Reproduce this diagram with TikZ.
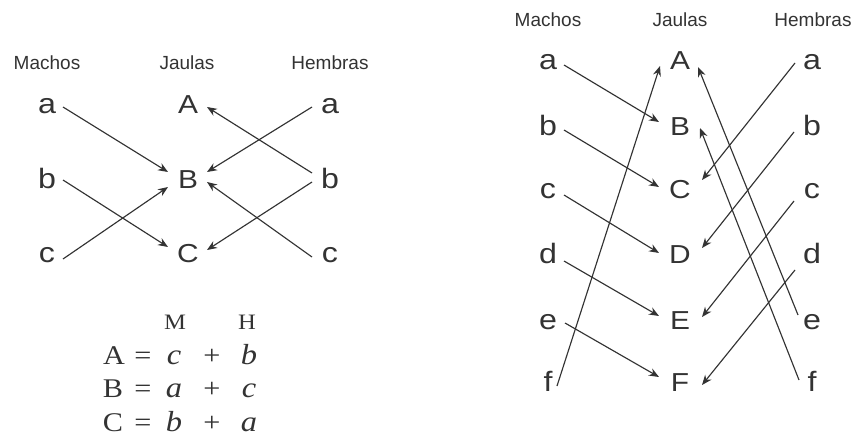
\documentclass[tikz,border=0pt]{standalone}
\usepackage{fontspec}
\usetikzlibrary{arrows.meta,calc}
\newfontfamily\lsans{Liberation Sans}
\newfontfamily\wsans[FakeStretch=1.15]{Liberation Sans}
\newfontfamily\lserif[FakeStretch=1.12]{Liberation Serif}
\definecolor{ink}{HTML}{333333}
\tikzset{
  lbl/.style={inner sep=0pt, anchor=base, text=ink},
  hdr/.style={lbl, font=\lsans\fontsize{19}{22}\selectfont},
  low/.style={lbl, font=\wsans\fontsize{28}{30}\selectfont},
  upp/.style={lbl, font=\wsans\fontsize{26}{28}\selectfont},
  eqs/.style={lbl, font=\lserif\fontsize{27}{30}\selectfont},
  eqh/.style={lbl, font=\lserif\fontsize{22}{24}\selectfont},
  eqv/.style={lbl, font=\lserif\itshape\fontsize{29}{31}\selectfont},
  arr/.style={draw=ink, line width=1.15pt, -{Stealth[length=10pt,width=8pt]}}
}
\begin{document}
\begin{tikzpicture}[x=1pt,y=-1pt]
\useasboundingbox (0,0) rectangle (855,439);
% ---------- left diagram ----------
\node[hdr] (h1) at (47,69) {Machos};
\node[hdr] (h2) at (187,69) {Jaulas};
\node[hdr] (h3) at (330,69) {Hembras};
\node[low] (La) at (47,113) {a};
\node[low] (Lb) at (47,188) {b};
\node[low] (Lc) at (47,262) {c};
\node[upp] (CA) at (188,113) {A};
\node[upp] (CB) at (188,188) {B};
\node[upp] (CC) at (188,262) {C};
\node[low] (Ra) at (330,113) {a};
\node[low] (Rb) at (330,188) {b};
\node[low] (Rc) at (330,262) {c};
\draw[arr] ($(La.base)+(16,-6)$) -- ($(CB.base)+(-20,-16)$);
\draw[arr] ($(Lb.base)+(16,-8)$) -- ($(CC.base)+(-20,-15)$);
\draw[arr] ($(Lc.base)+(16,-3)$) -- ($(CB.base)+(-20,-1)$);
\draw[arr] ($(Ra.base)+(-18,-6)$) -- ($(CB.base)+(19,-16)$);
\draw[arr] ($(Rb.base)+(-18,-15)$) -- ($(CA.base)+(19,-6)$);
\draw[arr] ($(Rb.base)+(-18,-6)$) -- ($(CC.base)+(19,-12)$);
\draw[arr] ($(Rc.base)+(-18,-5)$) -- ($(CB.base)+(19,-6)$);
% ---------- equations ----------
\node[eqh] (eM) at (175,329) {M};
\node[eqh] (eH) at (247,329) {H};
\node[eqs] (e1A) at (114,364) {A};
\node[eqs] (e1q) at (143,364) {=};
\node[eqv] (e1m) at (174,364) {c};
\node[eqs] (e1p) at (212,364) {+};
\node[eqv] (e1h) at (249,364) {b};
\node[eqs] (e2A) at (113,397) {B};
\node[eqs] (e2q) at (143,397) {=};
\node[eqv] (e2m) at (174,397) {a};
\node[eqs] (e2p) at (212,397) {+};
\node[eqv] (e2h) at (249,397) {c};
\node[eqs] (e3A) at (113,431) {C};
\node[eqs] (e3q) at (143,431) {=};
\node[eqv] (e3m) at (174,431) {b};
\node[eqs] (e3p) at (212,431) {+};
\node[eqv] (e3h) at (249,431) {a};
% ---------- right diagram ----------
\node[hdr] (g1) at (548,26) {Machos};
\node[hdr] (g2) at (680,26) {Jaulas};
\node[hdr] (g3) at (813,26) {Hembras};
\foreach \n/\t/\y in {a/A/69, b/B/135, c/C/198, d/D/263, e/E/329, f/F/391}{
  \node[low] (M\n) at (548,\y) {\n};
  \node[upp] (J\t) at (680,\y) {\t};
  \node[low] (H\n) at (812,\y) {\n};
}
% males
\draw[arr] ($(Ma.base)+(16,-4)$) -- ($(JB.base)+(-21,-13)$);
\draw[arr] ($(Mb.base)+(16,-5)$) -- ($(JC.base)+(-21,-11)$);
\draw[arr] ($(Mc.base)+(16,-3)$) -- ($(JD.base)+(-21,-10)$);
\draw[arr] ($(Md.base)+(16,-2)$) -- ($(JE.base)+(-21,-13)$);
\draw[arr] ($(Me.base)+(17,-6)$) -- ($(JF.base)+(-21,-14)$);
\draw[arr] ($(Mf.base)+(9,-5)$) -- ($(JA.base)+(-20,-3)$);
% females
\draw[arr] ($(Ha.base)+(-17,-6)$) -- ($(JC.base)+(22,-18)$);
\draw[arr] ($(Hb.base)+(-18,-3)$) -- ($(JD.base)+(22,-15)$);
\draw[arr] ($(Hc.base)+(-18,3)$) -- ($(JE.base)+(22,-12)$);
\draw[arr] ($(Hd.base)+(-17,7)$) -- ($(JF.base)+(22,-6)$);
\draw[arr] ($(He.base)+(-14,-14)$) -- ($(JA.base)+(18,-2)$);
\draw[arr] ($(Hf.base)+(-13,-11)$) -- ($(JB.base)+(20,-7)$);
\end{tikzpicture}
\end{document}
